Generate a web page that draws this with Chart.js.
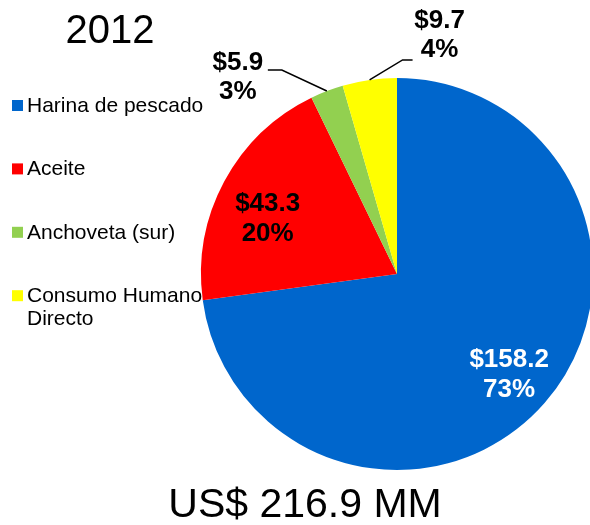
<!DOCTYPE html>
<html lang="es">
<head>
<meta charset="UTF-8">
<title>2012</title>
<style>
    html, body { margin: 0; padding: 0; overflow: hidden; background: #fff; }
    #wrap { position: absolute; left: 0; top: 0; width: 600px; height: 525px; }
</style>
</head>
<body>
<div id="wrap"><canvas id="pie"></canvas></div>

<script src="https://cdn.jsdelivr.net/npm/chart.js@4.4.0/dist/chart.umd.min.js"></script>
<script>
    // data
    var categories = [['Harina de pescado'], ['Aceite'], ['Anchoveta (sur)'], ['Consumo Humano', 'Directo']];
    var values = [158.2, 43.3, 5.9, 9.7];
    var percents = [73, 20, 3, 4];
    var colors = ['#0066cc', '#ff0000', '#92d050', '#ffff00'];
    var labelColors = ['#ffffff', '#000000', '#000000', '#000000'];
    var year = '2012';
    var totalText = 'US$ 216.9 MM';

    var FONT = '"Liberation Sans", Arial, sans-serif';

    // where each value label sits relative to its slice
    var labelPlace = [
        { inside: true, r: 0.76, dx: 0, dy: 0 },
        { inside: true, r: 0.72, dx: -5, dy: 9 },
        { inside: false, ex: -45, ey: -21, hx: -14, tx: -30, ty: 0 },
        { inside: false, ex: 33, ey: -20, hx: 10, tx: 27, ty: -32 }
    ];

    var pieText = {
        id: 'pieText',
        afterDraw: function (chart) {
            var ctx = chart.ctx;
            var arcs = chart.getDatasetMeta(0).data;
            ctx.save();
            ctx.textBaseline = 'alphabetic';
            ctx.fillStyle = '#000';

            // year and total
            ctx.textAlign = 'center';
            ctx.font = '40px ' + FONT;
            ctx.fillText(year, 110, 43);
            ctx.font = '41px ' + FONT;
            ctx.fillText(totalText, 305, 517);

            // legend on the left
            ctx.textAlign = 'left';
            ctx.font = '21px ' + FONT;
            for (var i = 0; i < categories.length; i++) {
                var base = 112 + i * 63.4;
                ctx.fillStyle = colors[i];
                ctx.fillRect(12, base - 12, 11, 11);
                ctx.fillStyle = '#000';
                for (var k = 0; k < categories[i].length; k++) {
                    ctx.fillText(categories[i][k], 27, base + k * 23);
                }
            }

            // value labels
            ctx.font = 'bold 26px ' + FONT;
            ctx.textAlign = 'center';
            arcs.forEach(function (arc, i) {
                var p = arc.getProps(['x', 'y', 'startAngle', 'endAngle', 'outerRadius'], true);
                var mid = (p.startAngle + p.endAngle) / 2;
                var lines = ['$' + values[i].toFixed(1), percents[i] + '%'];
                var pl = labelPlace[i];
                var cx, first;
                if (pl.inside) {
                    cx = p.x + Math.cos(mid) * p.outerRadius * pl.r + pl.dx;
                    var cy = p.y + Math.sin(mid) * p.outerRadius * pl.r + pl.dy;
                    first = cy - 5;
                } else {
                    var sx = p.x + Math.cos(mid) * p.outerRadius;
                    var sy = p.y + Math.sin(mid) * p.outerRadius;
                    var bx = sx + pl.ex, by = sy + pl.ey;
                    ctx.strokeStyle = '#000';
                    ctx.lineWidth = 1.5;
                    ctx.beginPath();
                    ctx.moveTo(sx, sy);
                    ctx.lineTo(bx, by);
                    ctx.lineTo(bx + pl.hx, by);
                    ctx.stroke();
                    cx = bx + pl.hx + pl.tx;
                    first = by + pl.ty;
                }
                ctx.fillStyle = labelColors[i];
                ctx.fillText(lines[0], cx, first);
                ctx.fillText(lines[1], cx, first + 29.5);
            });
            ctx.restore();
        }
    };

    var pieChart = new Chart(document.getElementById('pie').getContext('2d'), {
        type: 'pie',
        data: {
            labels: categories,
            datasets: [{
                data: values,
                backgroundColor: colors,
                borderWidth: 0
            }]
        },
        options: {
            responsive: true,
            maintainAspectRatio: false,
            animation: false,
            layout: { padding: { left: 201, right: 7, top: 78, bottom: 55 } },
            plugins: {
                legend: { display: false },
                tooltip: { enabled: false }
            }
        },
        plugins: [pieText]
    });
</script>
</body>
</html>
